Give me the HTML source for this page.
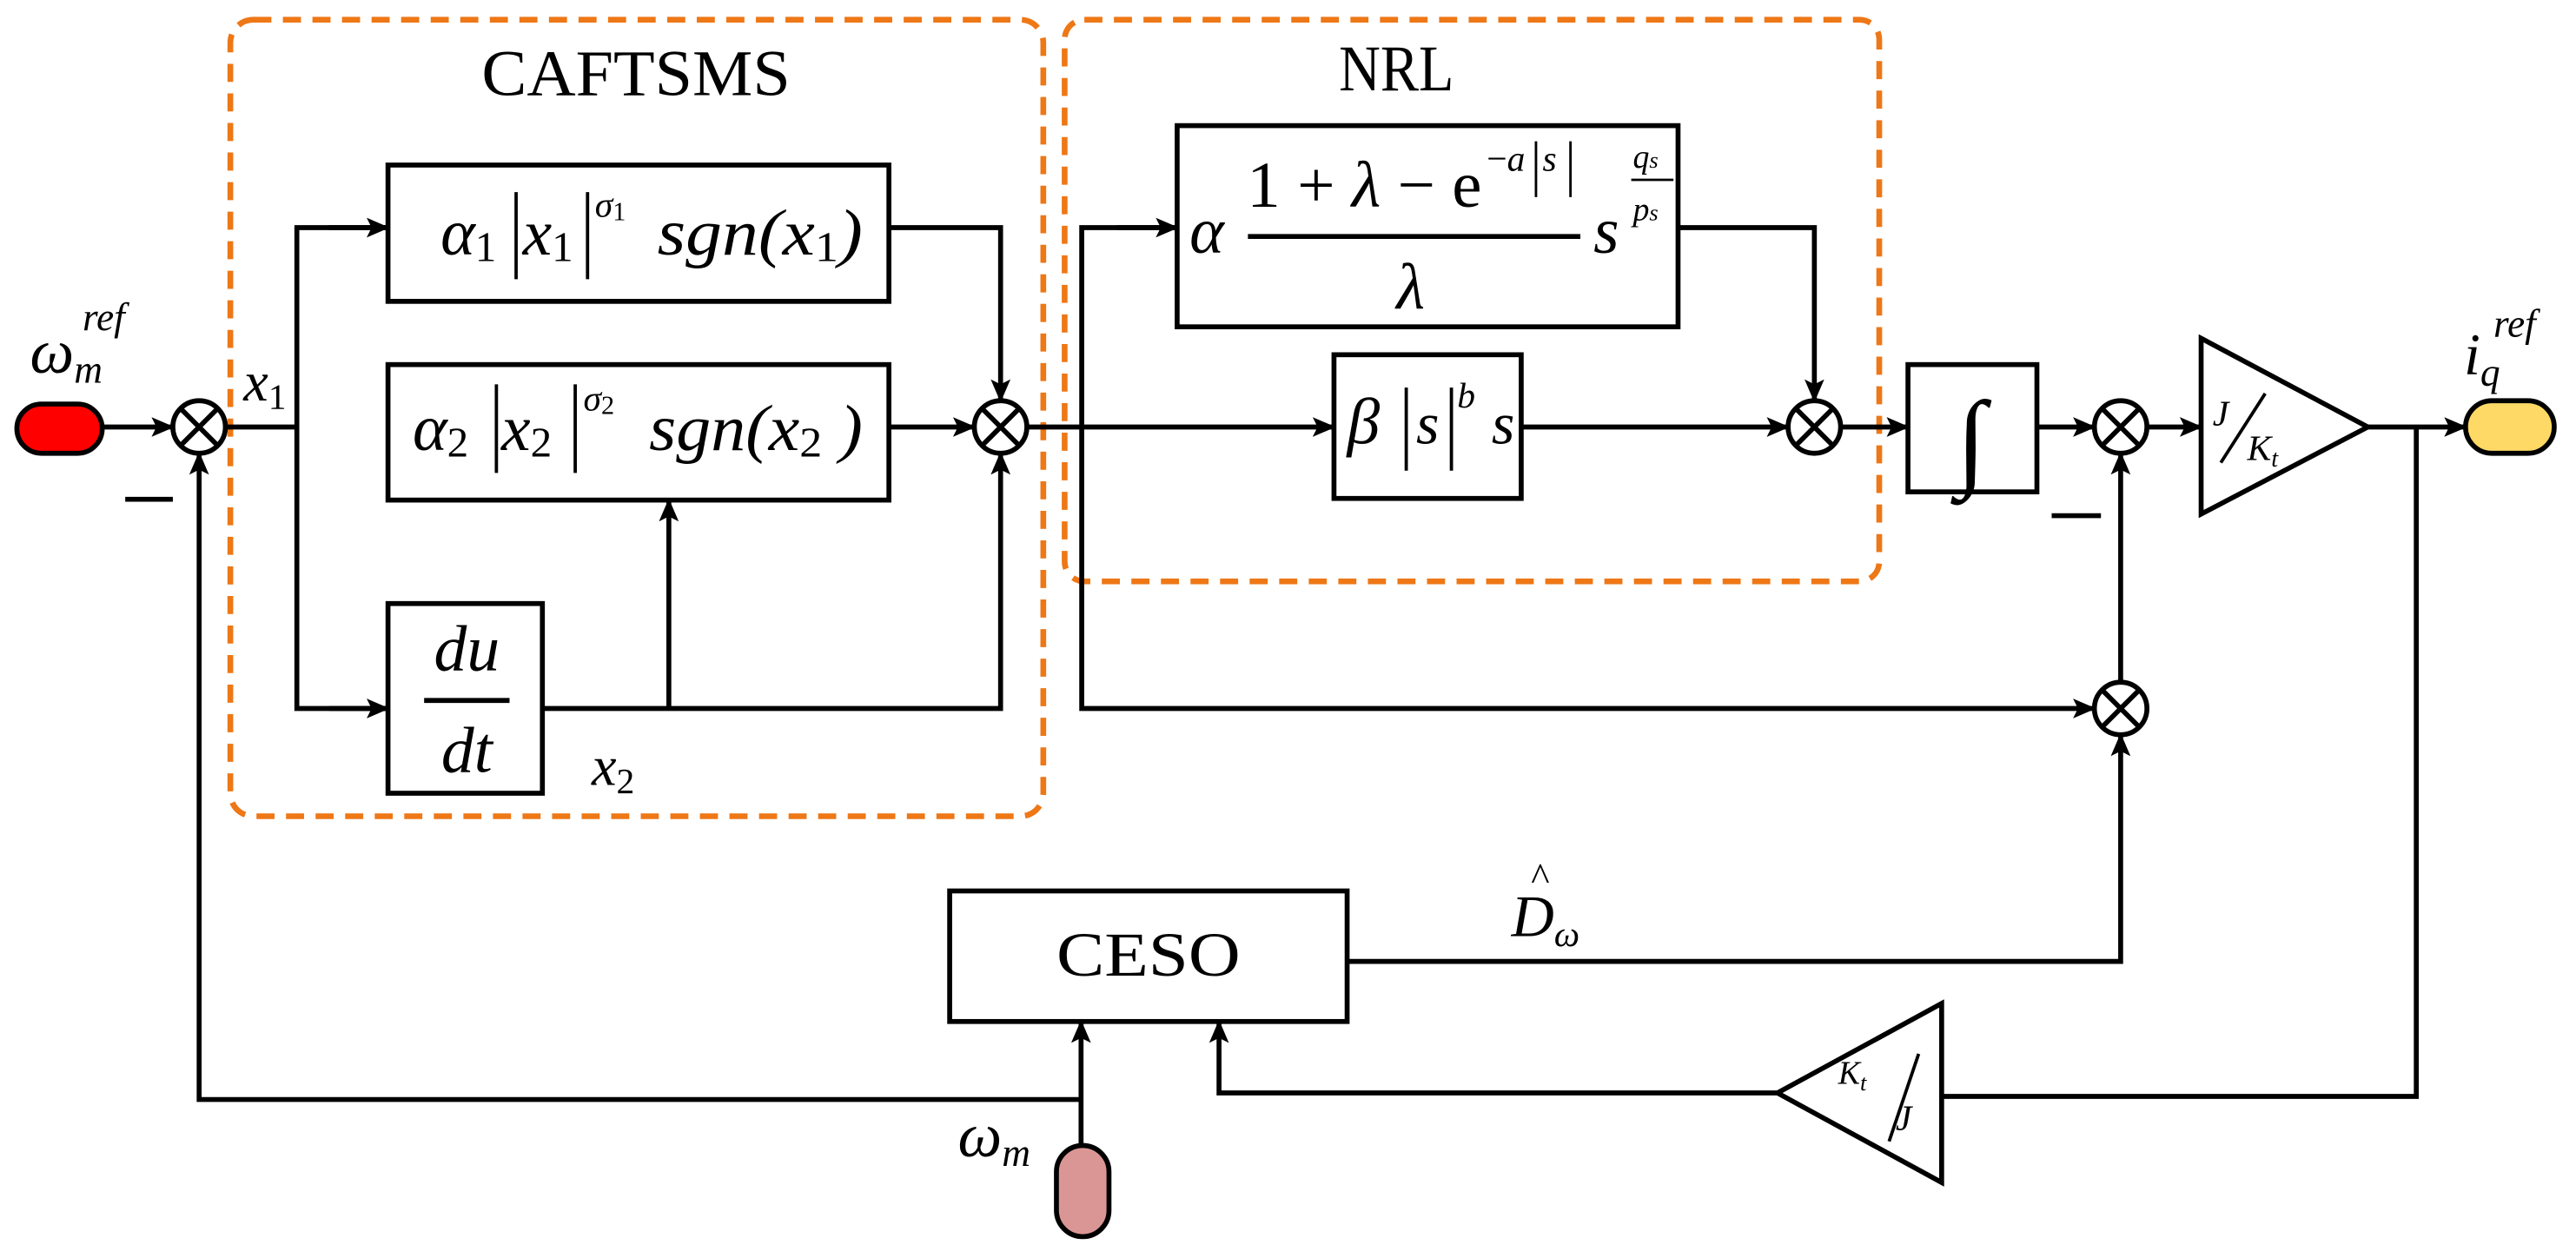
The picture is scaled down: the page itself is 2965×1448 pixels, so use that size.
<!DOCTYPE html>
<html><head><meta charset="utf-8"><style>html,body{margin:0;padding:0;background:#fff}svg{display:block}
text{font-family:"Liberation Serif","DejaVu Serif",serif;fill:#000}
.i{font-style:italic}</style></head><body>
<svg width="2965" height="1448" viewBox="0 0 1568 766" xmlns="http://www.w3.org/2000/svg">
<defs><marker id="a" markerWidth="14" markerHeight="12" refX="13" refY="6" orient="auto" markerUnits="userSpaceOnUse"><path d="M0,0 L14,6 L0,12 L3,6 Z" fill="#000"/></marker></defs>
<g fill="none" stroke="#EE7716" stroke-width="3.5" stroke-dasharray="11,7">
<rect x="140" y="12" width="495" height="485" rx="14"/>
<rect x="648" y="12" width="496" height="342" rx="12"/>
</g>
<g fill="none" stroke="#000" stroke-width="3">
<rect x="236" y="100.5" width="305" height="83"/>
<rect x="236" y="222" width="305" height="82.5"/>
<rect x="236" y="367.5" width="94" height="115.5"/>
<rect x="716.5" y="76.5" width="305" height="122.5"/>
<rect x="812" y="216" width="114" height="87.5"/>
<rect x="1161.5" y="222" width="78.5" height="77.5"/>
<rect x="578" y="542.5" width="242" height="79.5"/>
<path d="M1340,206 L1441.5,260 L1340,313 Z"/>
<path d="M1182,611 L1082,665.5 L1182,720 Z"/>
<circle cx="121" cy="260" r="16"/>
<circle cx="609" cy="260" r="16"/>
<circle cx="1104.5" cy="260" r="16"/>
<circle cx="1291" cy="260" r="16"/>
<circle cx="1291" cy="431.4" r="16"/>
<path d="M110,249 L132,271 M132,249 L110,271 M598,249 L620,271 M620,249 L598,271 M1093.5,249 L1115.5,271 M1115.5,249 L1093.5,271 M1280,249 L1302,271 M1302,249 L1280,271 M1280,420.4 L1302,442.4 M1302,420.4 L1280,442.4"/>
<path d="M62,260 L105,260" marker-end="url(#a)"/>
<path d="M137,260 L180.5,260"/>
<path d="M236,138.6 L180.5,138.6 L180.5,431.4 L236,431.4" />
<path d="M200,138.6 L236,138.6" marker-end="url(#a)"/>
<path d="M200,431.4 L236,431.4" marker-end="url(#a)"/>
<path d="M541,138.6 L609,138.6 L609,244" marker-end="url(#a)"/>
<path d="M541,260 L593,260" marker-end="url(#a)"/>
<path d="M330,431.4 L609,431.4 L609,276" marker-end="url(#a)"/>
<path d="M407,431.4 L407,304.5" marker-end="url(#a)"/>
<path d="M625,260 L812,260" marker-end="url(#a)"/>
<path d="M716.5,138.6 L658.4,138.6 L658.4,431.4 L1275,431.4" marker-end="url(#a)"/>
<path d="M680,138.6 L716.5,138.6" marker-end="url(#a)"/>
<path d="M1021.7,138.6 L1104.5,138.6 L1104.5,244" marker-end="url(#a)"/>
<path d="M926,260 L1088.5,260" marker-end="url(#a)"/>
<path d="M1120.5,260 L1161.5,260" marker-end="url(#a)"/>
<path d="M1240,260 L1275,260" marker-end="url(#a)"/>
<path d="M1307,260 L1340,260" marker-end="url(#a)"/>
<path d="M1441.5,260 L1501,260" marker-end="url(#a)"/>
<path d="M1471,260 L1471,667.6 L1182,667.6"/>
<path d="M1291,415.4 L1291,276" marker-end="url(#a)"/>
<path d="M820,585.4 L1291,585.4 L1291,447.4" marker-end="url(#a)"/>
<path d="M1082,665.5 L742,665.5 L742,622" marker-end="url(#a)"/>
<path d="M658,697.5 L658,622" marker-end="url(#a)"/>
<path d="M658,669.5 L121,669.5 L121,276" marker-end="url(#a)"/>
<path d="M76,304 L105,304 M1249,314 L1279,314"/>
<path d="M258,426.5 L310,426.5 M759.6,144 L962,144" />
<path d="M993,109.5 L1018.7,109.5" stroke-width="1.5"/>
<path d="M314,117 L314,170 M357.5,117 L357.5,170 M302,234 L302,288 M350,234 L350,288 M856,236 L856,286.6 M883.5,236 L883.5,286.6" stroke-width="2"/>
<path d="M935,86 L935,120 M956,86 L956,120" stroke-width="1.5"/>
<path d="M1379,239.6 L1352,281.7 M1168,641.7 L1150,695" stroke-width="2"/>
</g>
<rect x="10" y="246" width="52" height="30" rx="15" fill="#FF0000" stroke="#000" stroke-width="3"/>
<rect x="1501" y="244" width="54" height="32" rx="16" fill="#FFD966" stroke="#000" stroke-width="3"/>
<rect x="643" y="697.5" width="32" height="55.5" rx="16" fill="#D99694" stroke="#000" stroke-width="3"/>
<text x="387" y="58" font-size="40" text-anchor="middle" textLength="188" lengthAdjust="spacingAndGlyphs">CAFTSMS</text>
<text x="850" y="55" font-size="40" text-anchor="middle" textLength="70" lengthAdjust="spacingAndGlyphs">NRL</text>
<text x="699" y="594" font-size="38" text-anchor="middle" textLength="112" lengthAdjust="spacingAndGlyphs">CESO</text>
<text class="i" x="268" y="155" font-size="40">α<tspan font-style="normal" font-size="26" dy="4">1</tspan></text>
<text class="i" x="318" y="155" font-size="40">x<tspan font-style="normal" font-size="26" dy="4">1</tspan></text>
<text class="i" x="362" y="132" font-size="22">σ<tspan font-style="normal" font-size="16" dy="2">1</tspan></text>
<text class="i" x="400" y="155" font-size="40" textLength="125" lengthAdjust="spacingAndGlyphs">sgn(x<tspan font-style="normal" font-size="26" dy="4">1</tspan><tspan dy="-4">)</tspan></text>
<text class="i" x="251" y="274" font-size="40">α<tspan font-style="normal" font-size="26" dy="4">2</tspan></text>
<text class="i" x="305" y="274" font-size="40">x<tspan font-style="normal" font-size="26" dy="4">2</tspan></text>
<text class="i" x="355" y="250" font-size="22">σ<tspan font-style="normal" font-size="16" dy="2">2</tspan></text>
<text class="i" x="395" y="274" font-size="40" textLength="130" lengthAdjust="spacingAndGlyphs">sgn(x<tspan font-style="normal" font-size="26" dy="4">2</tspan><tspan dy="-4"> )</tspan></text>
<text class="i" x="284" y="408" font-size="40" text-anchor="middle">du</text>
<text class="i" x="284" y="470" font-size="40" text-anchor="middle">dt</text>
<text class="i" x="148" y="244" font-size="34">x<tspan font-style="normal" font-size="22" dy="5">1</tspan></text>
<text class="i" x="360" y="478" font-size="34">x<tspan font-style="normal" font-size="22" dy="5">2</tspan></text>
<text class="i" x="18" y="227" font-size="38">ω<tspan font-size="24" dy="6">m</tspan></text>
<text class="i" x="50" y="201" font-size="24">ref</text>
<text class="i" x="724" y="154" font-size="40">α</text>
<text x="759" y="126" font-size="40" textLength="143" lengthAdjust="spacingAndGlyphs">1 + <tspan font-style="italic">λ</tspan> − e</text>
<text x="905" y="104" font-size="22">−<tspan font-style="italic">a</tspan></text>
<text class="i" x="939" y="104" font-size="22">s</text>
<text class="i" x="850" y="188" font-size="40">λ</text>
<text class="i" x="970" y="154" font-size="40">s</text>
<text class="i" x="994" y="102" font-size="20">q<tspan font-size="14">s</tspan></text>
<text class="i" x="994" y="134" font-size="20">p<tspan font-size="14">s</tspan></text>
<text class="i" x="820" y="270" font-size="40">β</text>
<text class="i" x="862" y="270" font-size="36">s</text>
<text class="i" x="887" y="248" font-size="22">b</text>
<text class="i" x="908" y="270" font-size="36">s</text>
<text x="1200" y="290" font-size="66" text-anchor="middle" class="i">∫</text>
<text class="i" x="1347" y="259" font-size="22">J</text>
<text class="i" x="1368" y="280" font-size="22">K<tspan font-size="15" dy="4">t</tspan></text>
<text class="i" x="1119" y="660" font-size="20">K<tspan font-size="14" dy="4">t</tspan></text>
<text class="i" x="1154" y="688" font-size="22">J</text>
<text class="i" x="1500" y="228" font-size="36">i<tspan font-size="24" dy="7">q</tspan></text>
<text class="i" x="1518" y="205" font-size="24">ref</text>
<text class="i" x="920" y="570" font-size="36">D<tspan font-size="22" dy="6">ω</tspan></text>
<text x="932" y="542" font-size="24">^</text>
<text class="i" x="583" y="704" font-size="38">ω<tspan font-size="24" dy="6">m</tspan></text>
</svg>
</body></html>
